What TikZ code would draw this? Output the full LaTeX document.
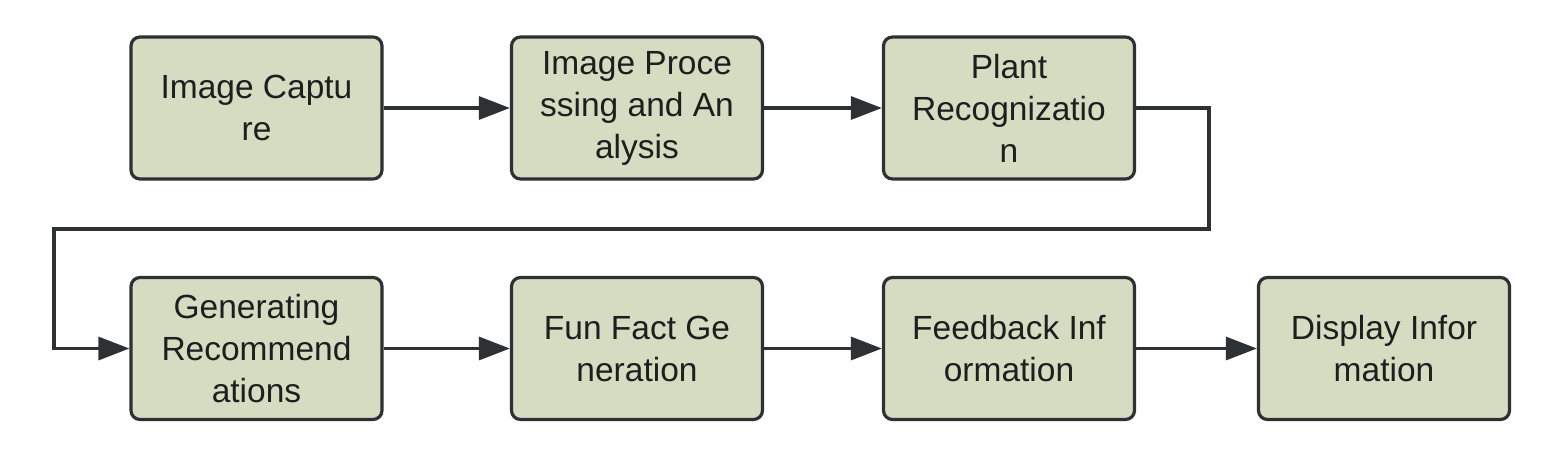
\documentclass[tikz,border=0pt]{standalone}
\usepackage{fontspec}
\setmainfont{Liberation Sans}
\usetikzlibrary{arrows.meta}
\definecolor{boxfill}{HTML}{D6DCC2}
\definecolor{boxline}{HTML}{2E3133}
\definecolor{txt}{HTML}{1E1E1E}
\begin{document}
\begin{tikzpicture}[x=1pt,y=-1pt,
  stage/.style={draw=boxline,fill=boxfill,line width=3.2pt,rounded corners=9pt,
    minimum width=251pt,minimum height=142pt,inner sep=0pt,align=center,
    text=txt,font=\fontsize{33.5}{42}\selectfont},
  link/.style={draw=boxline,line width=3.2pt,-{Triangle[length=31pt,width=23pt]}}]
\useasboundingbox (0,0) rectangle (1556,472);
\node[stage] (a) at (256.5,108) {Image Captu\\re};
\node[stage] (b) at (637,108) {Image Proce\\ssing and An\\alysis};
\node[stage] (c) at (1009,108) {Plant\\Recognizatio\\n};
\node[stage] (d) at (256.5,348.5) {Generating\\Recommend\\ations};
\node[stage] (e) at (637,348.5) {Fun Fact Ge\\neration};
\node[stage] (f) at (1009,348.5) {Feedback Inf\\ormation};
\node[stage] (g) at (1384,348.5) {Display Infor\\mation};
\coordinate (t1) at (1209,108);
\coordinate (t2) at (1209,229);
\coordinate (t3) at (54,229);
\coordinate (t4) at (54,348.5);
\draw[link] (a) -- (b);
\draw[link] (b) -- (c);
\draw[link,rounded corners=0pt] (c.east) -- (t1) -- (t2) -- (t3) -- (t4) -- (d.west);
\draw[link] (d) -- (e);
\draw[link] (e) -- (f);
\draw[link] (f) -- (g);
\end{tikzpicture}
\end{document}
